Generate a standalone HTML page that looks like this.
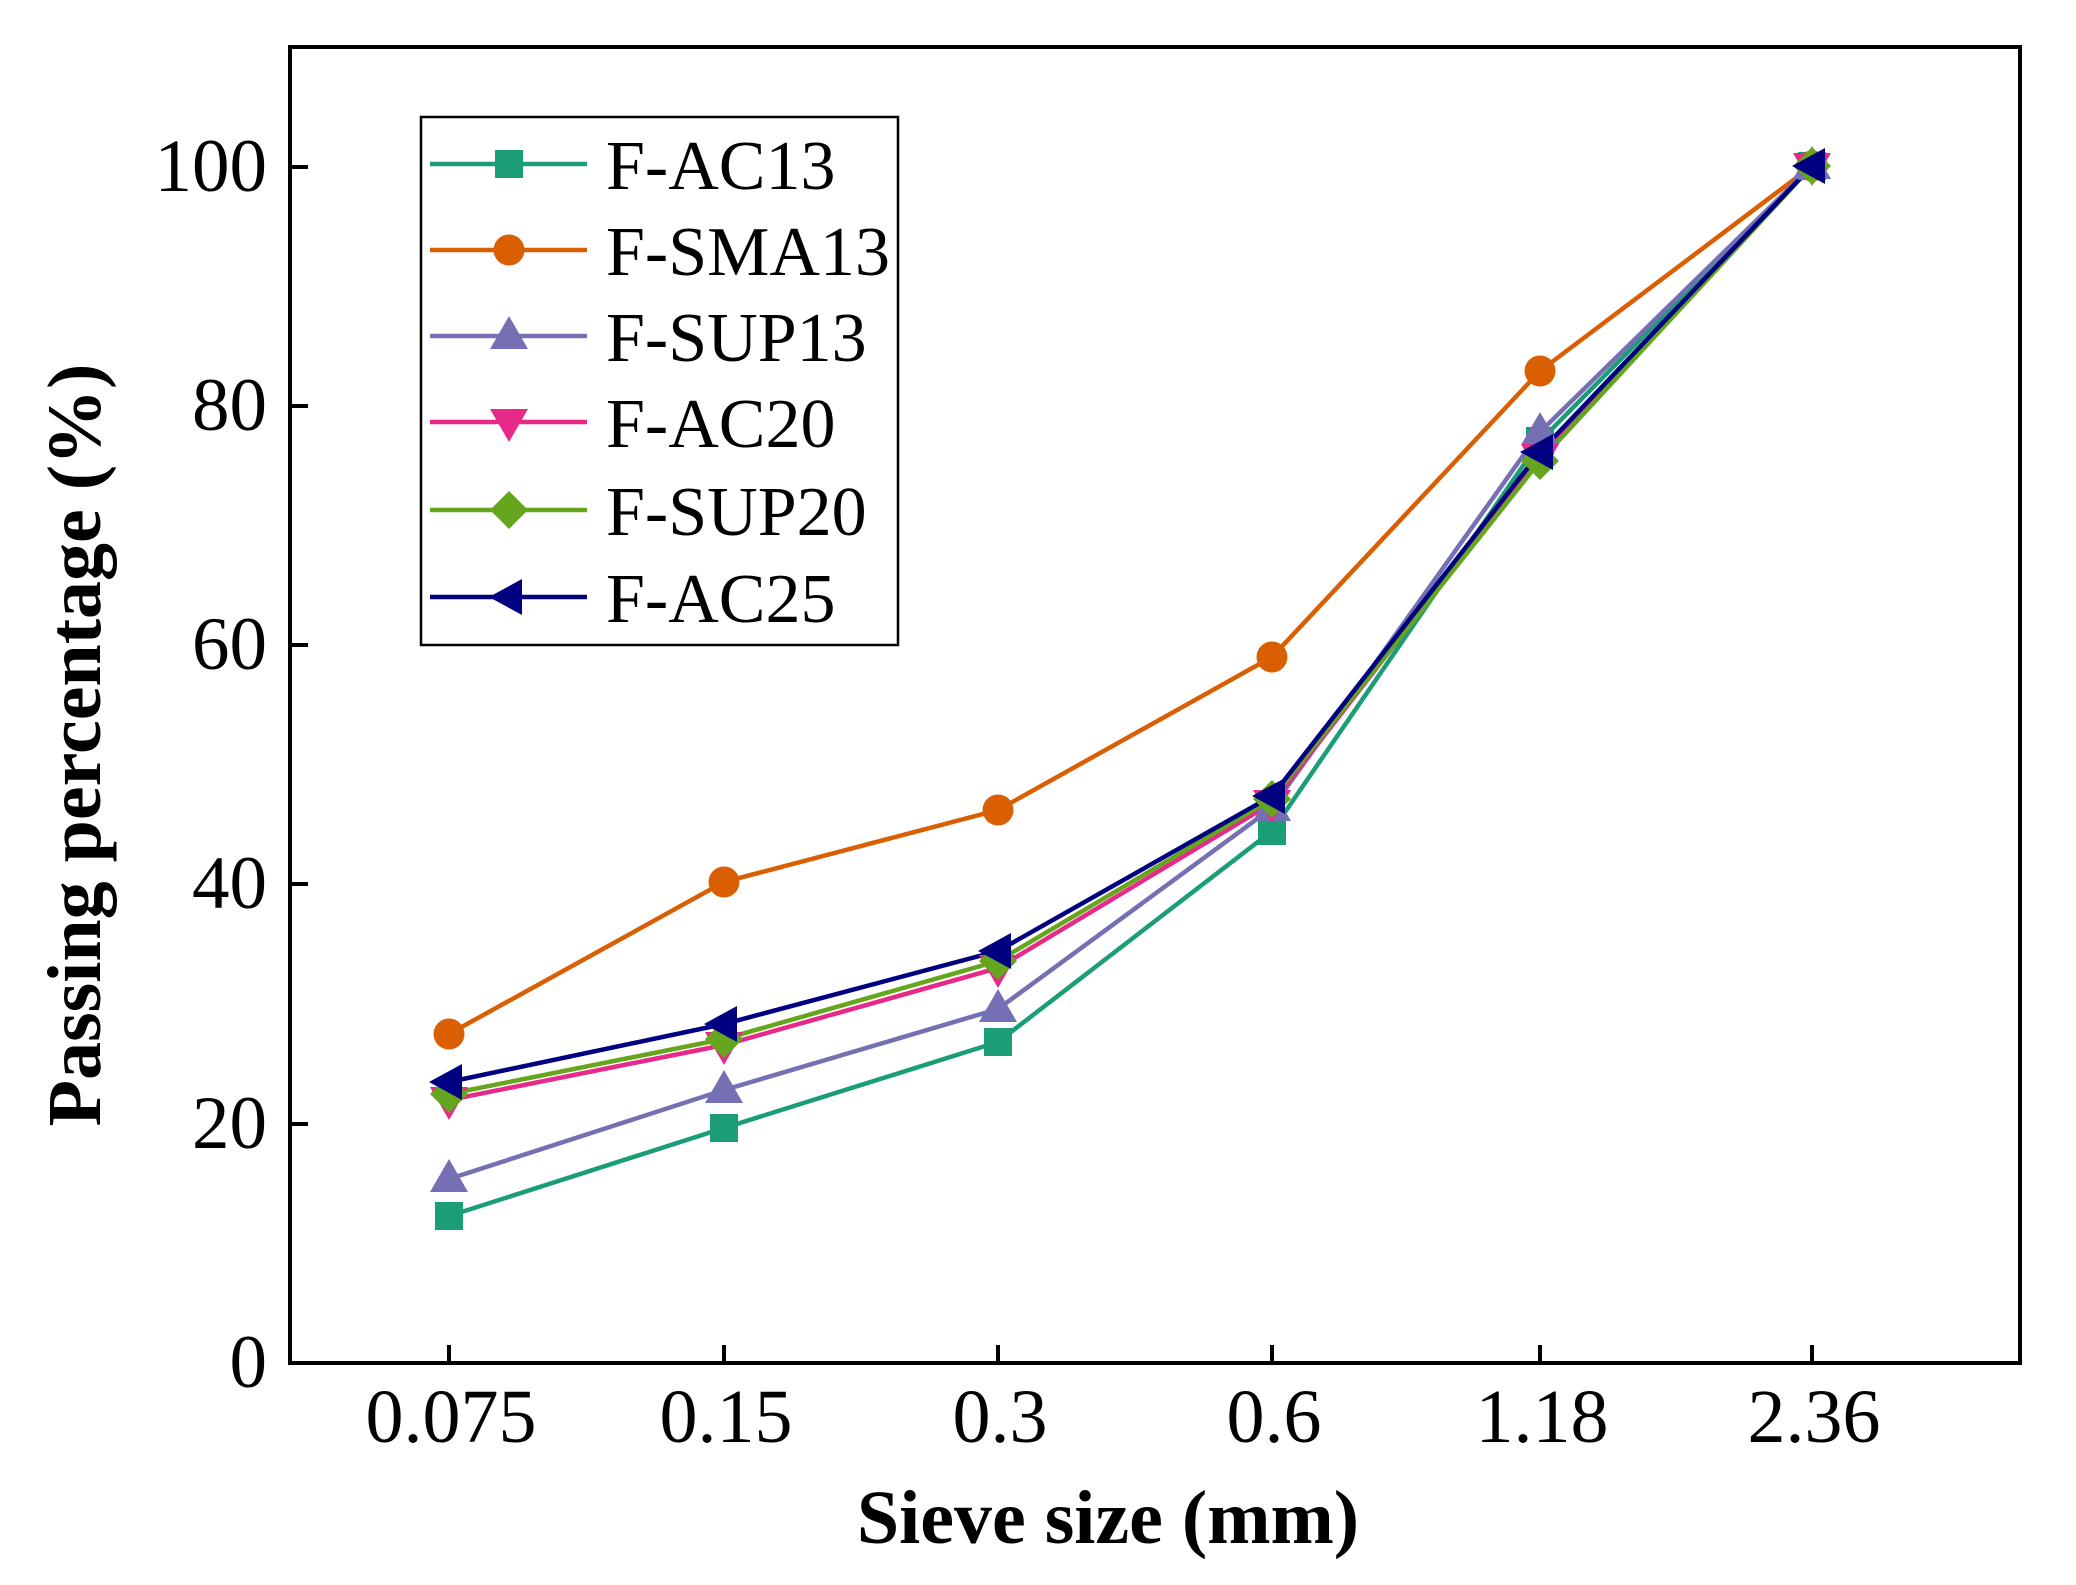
<!DOCTYPE html>
<html><head><meta charset="utf-8"><style>html,body{margin:0;padding:0;background:#fff}</style></head>
<body>
<svg width="2076" height="1580" viewBox="0 0 2076 1580" xmlns="http://www.w3.org/2000/svg" font-family="Liberation Serif, serif">
<rect width="2076" height="1580" fill="#fff"/>
<rect x="290" y="47" width="1730" height="1316" fill="none" stroke="#000" stroke-width="4"/>
<g stroke="#000" stroke-width="4">
<line x1="449" y1="1363" x2="449" y2="1345"/><line x1="724" y1="1363" x2="724" y2="1345"/><line x1="998" y1="1363" x2="998" y2="1345"/><line x1="1272" y1="1363" x2="1272" y2="1345"/><line x1="1540" y1="1363" x2="1540" y2="1345"/><line x1="1812" y1="1363" x2="1812" y2="1345"/>
<line x1="290" y1="1363" x2="308" y2="1363"/><line x1="290" y1="1124" x2="308" y2="1124"/><line x1="290" y1="884" x2="308" y2="884"/><line x1="290" y1="645" x2="308" y2="645"/><line x1="290" y1="406" x2="308" y2="406"/><line x1="290" y1="167" x2="308" y2="167"/>
</g>
<g font-size="75" text-anchor="end">
<text x="267" y="1387">0</text><text x="267" y="1148">20</text><text x="267" y="908">40</text><text x="267" y="669">60</text><text x="267" y="430">80</text><text x="267" y="191">100</text>
</g>
<g font-size="76" text-anchor="middle">
<text x="451" y="1442">0.075</text><text x="726" y="1442">0.15</text><text x="1000" y="1442">0.3</text><text x="1274" y="1442">0.6</text><text x="1542" y="1442">1.18</text><text x="1814" y="1442">2.36</text>
</g>
<text x="1108" y="1543" font-size="76" font-weight="bold" text-anchor="middle">Sieve size (mm)</text>
<text transform="translate(100,745) rotate(-90)" font-size="76" font-weight="bold" text-anchor="middle">Passing percentage (%)</text>
<g stroke-width="4.5" fill="none">
<polyline stroke="#1b9e77" points="449,1216 724,1128 998,1042 1272,831 1540,441 1812,166"/>
<polyline stroke="#d95f02" points="449,1034 724,882 998,810 1272,657 1540,371 1812,166"/>
<polyline stroke="#7570b3" points="449,1179 724,1090 998,1009 1272,808 1540,432 1812,166"/>
<polyline stroke="#e7298a" points="449,1100 724,1045 998,968 1272,803 1540,457 1812,166"/>
<polyline stroke="#66a61e" points="449,1094 724,1039 998,961 1272,799 1540,461 1812,166"/>
<polyline stroke="#000080" points="449,1082 724,1024 998,951 1272,796 1540,452 1812,166"/>
</g>
<defs>
<rect id="sq" x="-14" y="-14" width="28" height="28" fill="#1b9e77"/>
<circle id="ci" r="15.5" fill="#d95f02"/>
<polygon id="tu" points="0,-20 19,13 -19,13" fill="#7570b3"/>
<polygon id="td" points="0,20 19,-13 -19,-13" fill="#e7298a"/>
<polygon id="di" points="0,-19 19,0 0,19 -19,0" fill="#66a61e"/>
<polygon id="tl" points="-20,0 13,-18 13,18" fill="#000080"/>
</defs>
<g>
<use href="#sq" x="449" y="1216"/><use href="#sq" x="724" y="1128"/><use href="#sq" x="998" y="1042"/><use href="#sq" x="1272" y="831"/><use href="#sq" x="1540" y="441"/><use href="#sq" x="1812" y="166"/>
<use href="#ci" x="449" y="1034"/><use href="#ci" x="724" y="882"/><use href="#ci" x="998" y="810"/><use href="#ci" x="1272" y="657"/><use href="#ci" x="1540" y="371"/><use href="#ci" x="1812" y="166"/>
<use href="#tu" x="449" y="1179"/><use href="#tu" x="724" y="1090"/><use href="#tu" x="998" y="1009"/><use href="#tu" x="1272" y="808"/><use href="#tu" x="1540" y="432"/><use href="#tu" x="1812" y="166"/>
<use href="#td" x="449" y="1100"/><use href="#td" x="724" y="1045"/><use href="#td" x="998" y="968"/><use href="#td" x="1272" y="803"/><use href="#td" x="1540" y="457"/><use href="#td" x="1812" y="166"/>
<use href="#di" x="449" y="1094"/><use href="#di" x="724" y="1039"/><use href="#di" x="998" y="961"/><use href="#di" x="1272" y="799"/><use href="#di" x="1540" y="461"/><use href="#di" x="1812" y="166"/>
<use href="#tl" x="449" y="1082"/><use href="#tl" x="724" y="1024"/><use href="#tl" x="998" y="951"/><use href="#tl" x="1272" y="796"/><use href="#tl" x="1540" y="452"/><use href="#tl" x="1812" y="166"/>
</g>
<rect x="421" y="117" width="477" height="528" fill="#fff" stroke="#000" stroke-width="2.5"/>
<g stroke-width="4.5">
<line x1="430" y1="164" x2="587" y2="164" stroke="#1b9e77"/>
<line x1="430" y1="250" x2="587" y2="250" stroke="#d95f02"/>
<line x1="430" y1="336" x2="587" y2="336" stroke="#7570b3"/>
<line x1="430" y1="422" x2="587" y2="422" stroke="#e7298a"/>
<line x1="430" y1="510" x2="587" y2="510" stroke="#66a61e"/>
<line x1="430" y1="597" x2="587" y2="597" stroke="#000080"/>
</g>
<use href="#sq" x="509" y="164"/><use href="#ci" x="509" y="250"/><use href="#tu" x="509" y="336"/><use href="#td" x="509" y="422"/><use href="#di" x="509" y="510"/><use href="#tl" x="509" y="597"/>
<g font-size="70">
<text x="606" y="189">F-AC13</text><text x="606" y="275">F-SMA13</text><text x="606" y="361">F-SUP13</text><text x="606" y="447">F-AC20</text><text x="606" y="535">F-SUP20</text><text x="606" y="622">F-AC25</text>
</g>
</svg>
</body></html>
